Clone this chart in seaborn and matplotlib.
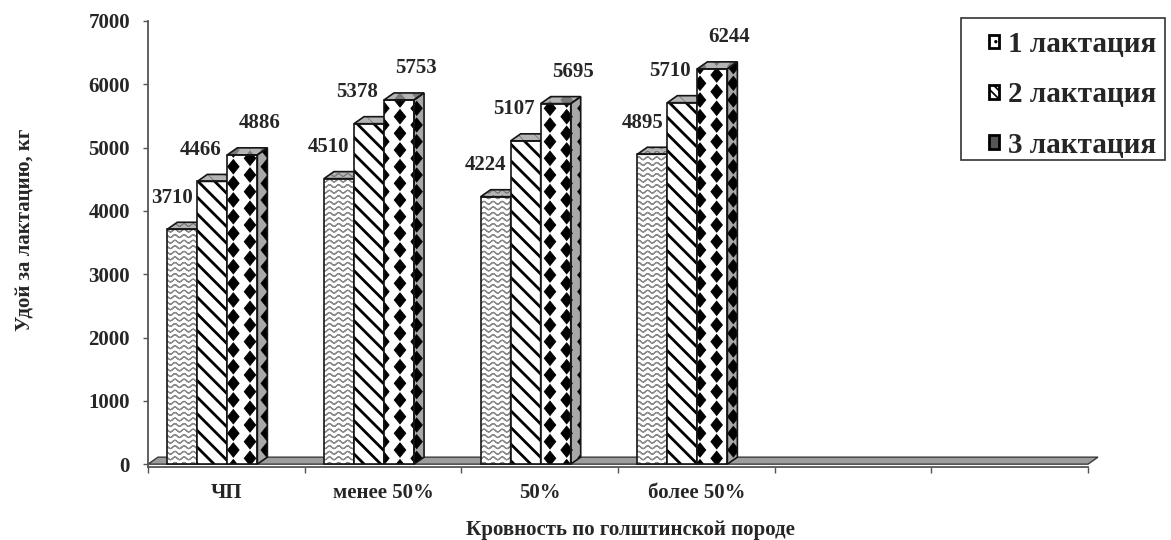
import warnings
import numpy as np
import pandas as pd
import matplotlib
matplotlib.use("Agg")
import matplotlib.pyplot as plt
import matplotlib.hatch as mhatch
import matplotlib.patches as mpatches
from matplotlib.path import Path
import seaborn as sns

# ---------------- data ----------------
categories = ["ЧП", "менее 50%", "50%", "более 50%"]
series = ["1 лактация", "2 лактация", "3 лактация"]
lact1 = [3710, 4510, 4224, 4895]
lact2 = [4466, 5378, 5107, 5710]
lact3 = [4886, 5753, 5695, 6244]
y_ticks = [0, 1000, 2000, 3000, 4000, 5000, 6000, 7000]
n_slots = 6  # category slots along the x axis (last two are empty)
x_title = "Кровность по голштинской породе"
y_title = "Удой за лактацию, кг"

warnings.filterwarnings("ignore")


# ---------------- custom hatch patterns ----------------
class WaveHatch(mhatch.HatchPatternBase):
    waves = 11
    samples = 8
    amp = 0.014

    def __init__(self, hatch, density):
        self.num_lines = int(hatch.count("~") * density)
        self.npts = self.waves * self.samples + 1
        self.num_vertices = self.num_lines * self.npts * 2

    def set_vertices_and_codes(self, vertices, codes):
        xs = np.linspace(0.0, 1.0, self.npts)
        ys = self.amp * np.sin(2 * np.pi * self.waves * xs)
        fx = np.concatenate([xs, xs[::-1]])
        fy = np.concatenate([ys, ys[::-1]])
        n = len(fx)
        for k in range(self.num_lines):
            s = (k + 0.5) / self.num_lines
            vertices[k * n:(k + 1) * n, 0] = fx
            vertices[k * n:(k + 1) * n, 1] = fy + s
            codes[k * n] = Path.MOVETO
            codes[k * n + 1:(k + 1) * n] = Path.LINETO


class DiamondHatch(mhatch.HatchPatternBase):
    cols = 3      # lattice repeats per inch, horizontally
    rows = 6      # lattice repeats per inch, vertically
    hw = 0.058
    hh = 0.072

    def __init__(self, hatch, density):
        self.centers = []
        if hatch.count("d"):
            px, py = 1.0 / self.cols, 1.0 / self.rows
            for r in range(-1, self.rows + 2):
                for c in range(-1, self.cols + 2):
                    for ox, oy in ((0.0, 0.0), (0.5, 0.5)):
                        cx, cy = (c + ox) * px, (r + oy) * py
                        if -self.hw < cx < 1 + self.hw and -self.hh < cy < 1 + self.hh:
                            self.centers.append((cx, cy))
        self.num_vertices = len(self.centers) * 5

    def set_vertices_and_codes(self, vertices, codes):
        for i, (cx, cy) in enumerate(self.centers):
            j = i * 5
            vertices[j:j + 5] = [(cx, cy - self.hh), (cx + self.hw, cy), (cx, cy + self.hh),
                                 (cx - self.hw, cy), (cx, cy - self.hh)]
            codes[j] = Path.MOVETO
            codes[j + 1:j + 4] = Path.LINETO
            codes[j + 4] = Path.CLOSEPOLY


mhatch._hatch_types.extend([WaveHatch, DiamondHatch])
mhatch._validate_hatch_pattern = lambda h: None


def set_hatch_lw(p, lw):
    if hasattr(p, "set_hatch_linewidth"):
        p.set_hatch_linewidth(lw)
    else:
        p._hatch_linewidth = lw


# ---------------- style ----------------
sns.set_style("white")
plt.rcParams["font.family"] = ["Liberation Serif", "DejaVu Serif"]
plt.rcParams["font.weight"] = "bold"
plt.rcParams["hatch.linewidth"] = 1.2

df = pd.DataFrame({
    "cat": categories * 3,
    "series": [s for s in series for _ in categories],
    "value": lact1 + lact2 + lact3,
})

W, H = 1171, 540
fig = plt.figure(figsize=(W / 100, H / 100), dpi=100)
ax = fig.add_axes([148 / W, 1 - 467 / H, 940 / W, 446 / H])

sns.barplot(data=df, x="cat", y="value", hue="series", order=categories,
            hue_order=series, palette=["white"] * 3, saturation=1,
            width=0.575, errorbar=None, legend=False, ax=ax)

ax.set_xlim(-0.5, n_slots - 0.5)
ax.set_ylim(-45, 7000)

ux = n_slots / 940.0      # data units per pixel (x)
uy = 7045.0 / 446.0       # data units per pixel (y)
dx, dy = 10 * ux, 7 * uy  # 3-D depth
shift = -14 * ux

styles = [
    dict(hatch="~~~", hcolor="#8a8a8a", hlw=0.9, lab_dx=-10),
    dict(hatch="\\\\", hcolor="black", hlw=2.0, lab_dx=-12),
    dict(hatch="d", hcolor="black", hlw=0.6, lab_dx=17),
]

# floor
floor = mpatches.Polygon([(-0.5, 0), (n_slots - 0.5, 0),
                          (n_slots - 0.5 + dx, dy), (-0.5 + dx, dy)],
                         closed=True, facecolor="#9d9d9d", edgecolor="#3a3a3a",
                         lw=1.0, zorder=2, clip_on=False)
ax.add_patch(floor)

for i, cont in enumerate(ax.containers):
    st = styles[i]
    z = 3 + i
    for p in cont.patches:
        p.set_x(p.get_x() + shift)
        x, y0, w, h = p.get_x(), p.get_y(), p.get_width(), p.get_height()
        p.set_zorder(z)
        p.set_facecolor("white")
        p.set_edgecolor(st["hcolor"])
        p.set_linewidth(0)
        p.set_hatch(st["hatch"])
        set_hatch_lw(p, st["hlw"])
        top_pts = [(x, y0 + h), (x + w, y0 + h), (x + w + dx, y0 + h + dy), (x + dx, y0 + h + dy)]
        side_pts = [(x + w, y0), (x + w + dx, y0 + dy), (x + w + dx, y0 + h + dy), (x + w, y0 + h)]
        top = mpatches.Polygon(top_pts, closed=True, facecolor="#b5b5b5",
                               edgecolor="#7a7a7a", lw=0, hatch=st["hatch"], zorder=z)
        side = mpatches.Polygon(side_pts, closed=True, facecolor="#a8a8a8",
                                edgecolor=st["hcolor"], lw=0, hatch=st["hatch"], zorder=z)
        set_hatch_lw(top, 0.6)
        set_hatch_lw(side, st["hlw"] * 0.7)
        ax.add_patch(top)
        ax.add_patch(side)
        for pts in (top_pts, side_pts, [(x, y0), (x + w, y0), (x + w, y0 + h), (x, y0 + h)]):
            ax.add_patch(mpatches.Polygon(pts, closed=True, fill=False,
                                          edgecolor="#151515", lw=1.2, zorder=z + 0.5))
    anns = ax.bar_label(cont, padding=15.5, fontsize=15, fontweight="bold", zorder=20)
    for a in anns:
        a.xyann = (st["lab_dx"] * 0.72, a.xyann[1])

# axes styling
for s in ("top", "right"):
    ax.spines[s].set_visible(False)
for s in ("left", "bottom"):
    ax.spines[s].set_color("#555555")
    ax.spines[s].set_linewidth(1.3)

ax.set_yticks(y_ticks)
ax.tick_params(axis="y", left=True, length=3.6, width=1, color="#555555",
               pad=9.4, labelsize=15)
ax.set_xticks(range(len(categories)))
ax.set_xticklabels(categories)
ax.tick_params(axis="x", which="major", bottom=False, length=0, pad=11.5, labelsize=15)
ax.set_xticks(np.arange(-0.5, n_slots, 1.0), minor=True)
ax.tick_params(axis="x", which="minor", bottom=True, length=4.3, width=1, color="#555555")

ax.set_xlabel(x_title, fontsize=15, fontweight="bold")
ax.xaxis.set_label_coords(0.513, -0.119)
ax.set_ylabel(y_title, fontsize=15, fontweight="bold")
ax.yaxis.set_label_coords(-0.120, 0.531)

# legend
box = mpatches.Rectangle((961 / W, 1 - 160 / H), 204 / W, 142 / H,
                         transform=fig.transFigure, facecolor="white",
                         edgecolor="#333333", lw=1.2, zorder=8)
fig.add_artist(box)
handles = [
    mpatches.Patch(facecolor="white", edgecolor="black", lw=2.0, hatch=".."),
    mpatches.Patch(facecolor="white", edgecolor="black", lw=2.0, hatch="\\\\\\\\"),
    mpatches.Patch(facecolor="#555555", edgecolor="black", lw=2.0),
]
leg = fig.legend(handles, series, loc="upper left",
                 bbox_to_anchor=(989 / W, 1 - 31 / H),
                 frameon=False, fontsize=21, handlelength=0.35, handleheight=0.35,
                 handletextpad=0.3, labelspacing=0.8, borderpad=0, borderaxespad=0)
leg.set_zorder(10)

fig.savefig("out.png", dpi=100)
